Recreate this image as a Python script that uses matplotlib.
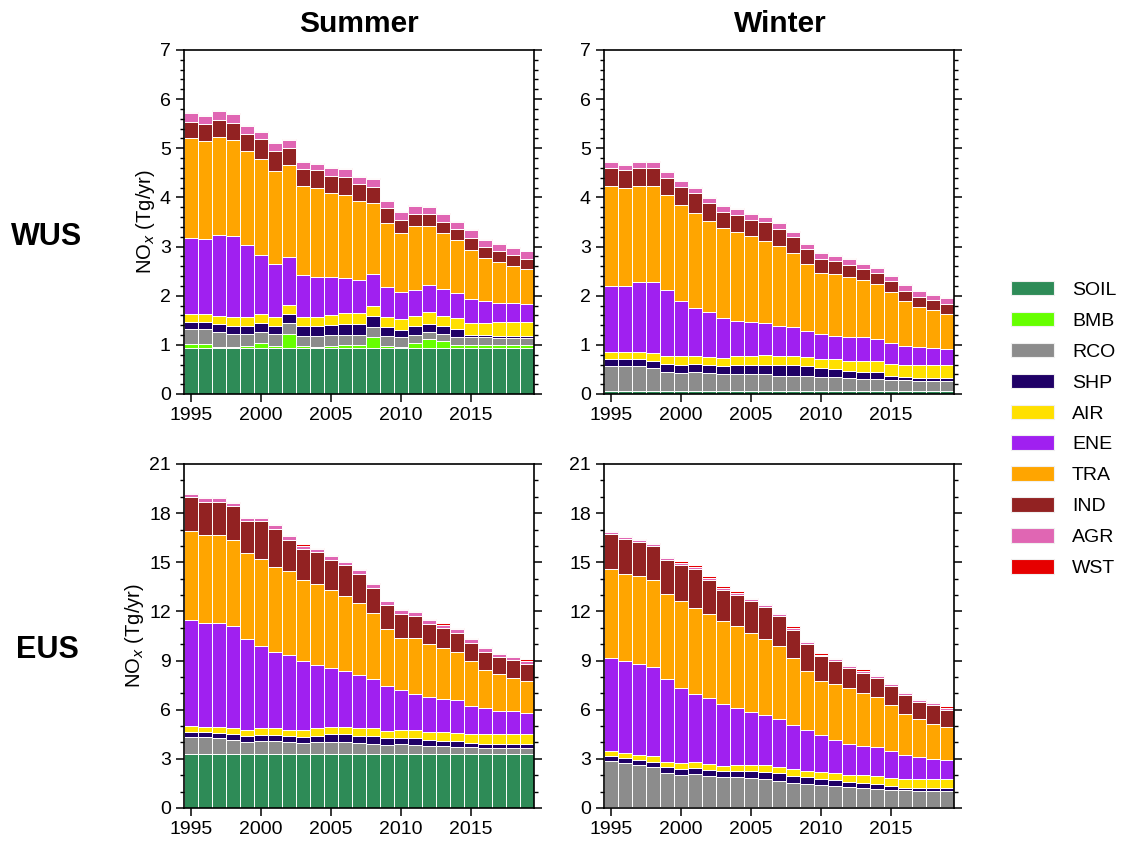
import matplotlib

matplotlib.use("Agg")
import matplotlib.pyplot as plt
import numpy as np
from matplotlib.patches import Patch
from matplotlib.ticker import MultipleLocator

plt.rcParams["font.family"] = ["Liberation Sans", "DejaVu Sans"]

years = np.arange(1995, 2020)
sectors = ["SOIL", "BMB", "RCO", "SHP", "AIR", "ENE", "TRA", "IND", "AGR", "WST"]
colors = ["#2e8b57", "#66ff00", "#8c8c8c", "#1f0066", "#ffe000",
          "#a020f0", "#ffa500", "#922222", "#e066b3", "#e60000"]

# --- WUS summer (Tg/yr) ---
wus_sum_soil = [0.93] * 25
wus_sum_bmb = [0.09, 0.09, 0.02, 0.03, 0.05, 0.11, 0.04, 0.30, 0.04, 0.03, 0.05, 0.06, 0.07,
               0.24, 0.05, 0.03, 0.10, 0.19, 0.14, 0.07, 0.07, 0.07, 0.07, 0.07, 0.07]
wus_sum_rco = [0.30, 0.30, 0.31, 0.27, 0.24, 0.23, 0.25, 0.22, 0.22, 0.23, 0.22, 0.22, 0.21,
               0.19, 0.20, 0.19, 0.17, 0.15, 0.15, 0.15, 0.15, 0.15, 0.13, 0.13, 0.13]
wus_sum_shp = [0.15, 0.15, 0.16, 0.16, 0.16, 0.17, 0.17, 0.17, 0.19, 0.20, 0.20, 0.21, 0.21,
               0.23, 0.19, 0.15, 0.19, 0.15, 0.16, 0.17, 0.05, 0.05, 0.06, 0.06, 0.06]
wus_sum_air = [0.16, 0.16, 0.17, 0.18, 0.18, 0.19, 0.18, 0.19, 0.18, 0.18, 0.21, 0.22, 0.22,
               0.21, 0.20, 0.22, 0.20, 0.24, 0.21, 0.22, 0.25, 0.25, 0.28, 0.28, 0.28]
wus_sum_ene = [1.55, 1.52, 1.65, 1.65, 1.47, 1.19, 1.07, 0.97, 0.86, 0.82, 0.77, 0.73, 0.68,
               0.64, 0.61, 0.55, 0.53, 0.56, 0.55, 0.52, 0.48, 0.45, 0.39, 0.39, 0.36]
wus_sum_tra = [2.02, 1.99, 1.98, 1.95, 1.92, 1.96, 1.90, 1.87, 1.81, 1.81, 1.71, 1.68, 1.61,
               1.44, 1.29, 1.20, 1.30, 1.20, 1.13, 1.07, 1.01, 0.86, 0.82, 0.74, 0.71]
wus_sum_ind = [0.34, 0.36, 0.36, 0.35, 0.35, 0.40, 0.41, 0.36, 0.35, 0.35, 0.35, 0.37, 0.34,
               0.34, 0.31, 0.28, 0.25, 0.24, 0.24, 0.23, 0.24, 0.23, 0.22, 0.22, 0.21]
wus_sum_agr = [0.17, 0.16, 0.17, 0.17, 0.15, 0.15, 0.15, 0.15, 0.14, 0.14, 0.15, 0.15, 0.15,
               0.15, 0.15, 0.15, 0.16, 0.15, 0.15, 0.15, 0.15, 0.15, 0.15, 0.15, 0.15]
wus_sum_wst = [0.02] * 25

# --- WUS winter ---
wus_win_soil = [0.06] * 25
wus_win_bmb = [0.0] * 25
wus_win_rco = [0.51, 0.51, 0.50, 0.46, 0.39, 0.37, 0.39, 0.36, 0.35, 0.35, 0.35, 0.34, 0.31,
               0.31, 0.31, 0.29, 0.28, 0.26, 0.25, 0.25, 0.22, 0.22, 0.21, 0.21, 0.21]
wus_win_shp = [0.14, 0.14, 0.15, 0.16, 0.16, 0.16, 0.16, 0.16, 0.15, 0.17, 0.18, 0.19, 0.21,
               0.21, 0.19, 0.17, 0.16, 0.15, 0.14, 0.14, 0.09, 0.06, 0.06, 0.06, 0.06]
wus_win_air = [0.14, 0.14, 0.14, 0.15, 0.16, 0.18, 0.17, 0.18, 0.18, 0.19, 0.19, 0.20, 0.20,
               0.20, 0.19, 0.19, 0.21, 0.21, 0.22, 0.22, 0.24, 0.24, 0.25, 0.26, 0.26]
wus_win_ene = [1.35, 1.35, 1.42, 1.44, 1.35, 1.13, 0.98, 0.90, 0.80, 0.72, 0.69, 0.65, 0.61,
               0.58, 0.54, 0.51, 0.47, 0.49, 0.48, 0.45, 0.43, 0.40, 0.37, 0.34, 0.33]
wus_win_tra = [2.03, 1.99, 1.97, 1.97, 1.93, 1.95, 1.92, 1.86, 1.83, 1.81, 1.74, 1.68, 1.63,
               1.50, 1.35, 1.24, 1.26, 1.22, 1.16, 1.11, 1.03, 0.91, 0.83, 0.77, 0.71]
wus_win_ind = [0.36, 0.36, 0.36, 0.35, 0.35, 0.37, 0.41, 0.37, 0.34, 0.35, 0.34, 0.37, 0.34,
               0.33, 0.31, 0.29, 0.27, 0.24, 0.23, 0.23, 0.23, 0.20, 0.20, 0.21, 0.20]
wus_win_agr = [0.13, 0.11, 0.12, 0.13, 0.11, 0.12, 0.11, 0.10, 0.12, 0.11, 0.11, 0.11, 0.11,
               0.10, 0.11, 0.11, 0.10, 0.11, 0.11, 0.10, 0.10, 0.12, 0.12, 0.10, 0.12]
wus_win_wst = [0.02] * 25

# --- EUS summer ---
eus_sum_soil = [3.30] * 25
eus_sum_bmb = [0.01] * 25
eus_sum_rco = [1.01, 1.01, 0.97, 0.87, 0.71, 0.75, 0.77, 0.69, 0.65, 0.71, 0.73, 0.69, 0.63,
               0.60, 0.52, 0.60, 0.54, 0.48, 0.46, 0.44, 0.40, 0.38, 0.36, 0.36, 0.34]
eus_sum_shp = [0.35, 0.29, 0.31, 0.31, 0.36, 0.40, 0.38, 0.38, 0.40, 0.40, 0.45, 0.49, 0.48,
               0.49, 0.43, 0.37, 0.41, 0.37, 0.35, 0.33, 0.25, 0.22, 0.22, 0.22, 0.24]
eus_sum_air = [0.32, 0.36, 0.38, 0.40, 0.41, 0.41, 0.41, 0.41, 0.41, 0.47, 0.44, 0.44, 0.47,
               0.47, 0.47, 0.49, 0.51, 0.47, 0.51, 0.51, 0.53, 0.58, 0.64, 0.64, 0.64]
eus_sum_ene = [6.47, 6.32, 6.32, 6.20, 5.55, 5.02, 4.65, 4.53, 4.20, 3.82, 3.63, 3.43, 3.20,
               2.98, 2.71, 2.45, 2.16, 2.12, 2.04, 2.02, 1.73, 1.59, 1.38, 1.38, 1.24]
eus_sum_tra = [5.44, 5.35, 5.37, 5.28, 5.20, 5.34, 5.20, 5.13, 4.97, 4.95, 4.73, 4.61, 4.43,
               4.06, 3.49, 3.18, 3.47, 3.28, 3.12, 2.91, 2.77, 2.34, 2.24, 2.02, 1.98]
eus_sum_ind = [2.08, 2.06, 2.04, 2.06, 1.97, 2.28, 2.34, 1.94, 1.88, 1.94, 1.88, 1.85, 1.79,
               1.55, 1.49, 1.47, 1.34, 1.22, 1.20, 1.18, 1.10, 1.12, 1.06, 1.08, 1.04]
eus_sum_agr = [0.20] * 25
eus_sum_wst = [0.08] * 25

# --- EUS winter ---
eus_win_soil = [0.05] * 25
eus_win_bmb = [0.01] * 25
eus_win_rco = [2.79, 2.69, 2.57, 2.43, 2.08, 1.98, 2.02, 1.90, 1.82, 1.82, 1.77, 1.69, 1.59,
               1.47, 1.41, 1.37, 1.31, 1.20, 1.16, 1.12, 1.06, 1.02, 1.00, 1.00, 1.00]
eus_win_shp = [0.31, 0.31, 0.33, 0.32, 0.35, 0.35, 0.35, 0.36, 0.36, 0.40, 0.45, 0.45, 0.47,
               0.45, 0.45, 0.32, 0.34, 0.31, 0.31, 0.31, 0.21, 0.16, 0.16, 0.16, 0.16]
eus_win_air = [0.31, 0.32, 0.30, 0.35, 0.34, 0.36, 0.36, 0.37, 0.35, 0.37, 0.37, 0.41, 0.41,
               0.41, 0.36, 0.43, 0.45, 0.47, 0.47, 0.47, 0.50, 0.53, 0.55, 0.55, 0.55]
eus_win_ene = [5.68, 5.57, 5.55, 5.44, 5.02, 4.57, 4.18, 4.00, 3.77, 3.47, 3.24, 3.08, 2.89,
               2.69, 2.49, 2.25, 2.00, 1.87, 1.81, 1.79, 1.62, 1.49, 1.33, 1.23, 1.19]
eus_win_tra = [5.43, 5.36, 5.36, 5.31, 5.24, 5.30, 5.24, 5.15, 5.06, 4.97, 4.81, 4.63, 4.49,
               4.09, 3.61, 3.32, 3.40, 3.39, 3.18, 3.00, 2.85, 2.49, 2.32, 2.14, 1.99]
eus_win_ind = [2.12, 2.12, 2.08, 2.09, 2.04, 2.24, 2.41, 2.10, 1.91, 1.94, 1.94, 1.95, 1.81,
               1.72, 1.61, 1.50, 1.41, 1.26, 1.27, 1.18, 1.12, 1.12, 1.06, 1.12, 1.06]
eus_win_agr = [0.12] * 25
eus_win_wst = [0.08] * 25

panels = [
    ([wus_sum_soil, wus_sum_bmb, wus_sum_rco, wus_sum_shp, wus_sum_air, wus_sum_ene,
      wus_sum_tra, wus_sum_ind, wus_sum_agr, wus_sum_wst], 7, 1, 0.2, True),
    ([wus_win_soil, wus_win_bmb, wus_win_rco, wus_win_shp, wus_win_air, wus_win_ene,
      wus_win_tra, wus_win_ind, wus_win_agr, wus_win_wst], 7, 1, 0.2, False),
    ([eus_sum_soil, eus_sum_bmb, eus_sum_rco, eus_sum_shp, eus_sum_air, eus_sum_ene,
      eus_sum_tra, eus_sum_ind, eus_sum_agr, eus_sum_wst], 21, 3, 1, True),
    ([eus_win_soil, eus_win_bmb, eus_win_rco, eus_win_shp, eus_win_air, eus_win_ene,
      eus_win_tra, eus_win_ind, eus_win_agr, eus_win_wst], 21, 3, 1, False),
]

W, H = 1126, 841
fig = plt.figure(figsize=(W / 100, H / 100), dpi=100)
boxes = [(184, 50), (604, 50), (184, 464), (604, 464)]
ax_w, ax_h = 350, 344

for (series, ymax, major, minor, ylab), (x0, y0) in zip(panels, boxes):
    ax = fig.add_axes([x0 / W, 1 - (y0 + ax_h) / H, ax_w / W, ax_h / H])
    bottom = np.zeros(len(years))
    for vals, c in zip(series, colors):
        vals = np.asarray(vals)
        ax.bar(years, vals, bottom=bottom, width=1.0, color=c,
               edgecolor="white", linewidth=0.7)
        bottom += vals
    ax.set_xlim(1994.5, 2019.5)
    ax.set_ylim(0, ymax)
    ax.set_xticks([1995, 2000, 2005, 2010, 2015])
    ax.yaxis.set_major_locator(MultipleLocator(major))
    ax.yaxis.set_minor_locator(MultipleLocator(minor))
    ax.tick_params(axis="y", which="both", direction="out", right=True)
    ax.tick_params(axis="both", which="major", length=6, width=1.1, labelsize=14)
    ax.tick_params(axis="y", which="minor", length=3, width=1.0)
    for spine in ax.spines.values():
        spine.set_linewidth(1.2)
    if ylab:
        ax.set_ylabel("NO$_x$ (Tg/yr)", fontsize=14.5, labelpad=2)

fig.text(359 / W, 1 - 24 / H, "Summer", ha="center", va="center",
         fontsize=21.5, fontweight="bold")
fig.text(780 / W, 1 - 24 / H, "Winter", ha="center", va="center",
         fontsize=21.5, fontweight="bold")
fig.text(47 / W, 1 - 237 / H, "WUS", ha="center", va="center",
         fontsize=22, fontweight="bold")
fig.text(47 / W, 1 - 650 / H, "EUS", ha="center", va="center",
         fontsize=22, fontweight="bold")

handles = [Patch(facecolor=c, edgecolor="#f0f0f0", linewidth=0.8, label=s)
           for s, c in zip(sectors, colors)]
fig.legend(handles=handles, loc="center left", bbox_to_anchor=(1003 / W, 1 - 429 / H),
           frameon=False, fontsize=14, handlelength=2.2, handleheight=0.78,
           labelspacing=0.66, handletextpad=0.95, borderaxespad=0)

fig.savefig("out.png", dpi=100)
plt.close(fig)
